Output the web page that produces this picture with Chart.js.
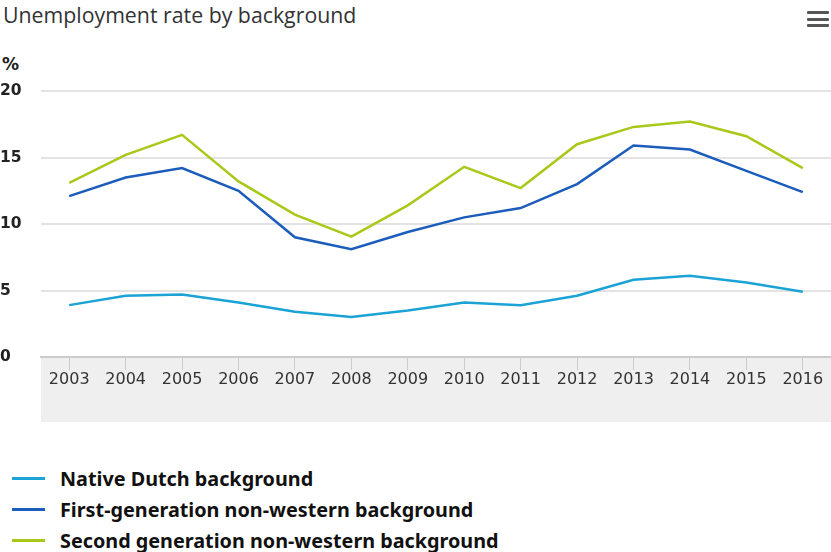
<!DOCTYPE html>
<html>
<head>
<meta charset="utf-8">
<script src="https://cdn.jsdelivr.net/npm/chart.js@4"></script>
<style>
  body { margin: 0; background: #fff; width: 831px; height: 552px; overflow: hidden; position: relative; }
  #title { position: absolute; left: 3px; top: 0px; font: 21.3px "Open Sans", sans-serif; color: #333; }
  #unit { position: absolute; left: 2px; top: 54px; font: bold 17px "DejaVu Sans", sans-serif; color: #222; }
  #menu { position: absolute; left: 807px; top: 11px; width: 22px; }
  #menu div { height: 3px; background: #555; margin-bottom: 3.5px; border-radius: 1px; }
  #wrap { position: absolute; left: 0; top: 0; width: 831px; height: 425px; }
  #legend { position: absolute; left: 12px; top: 463px; }
  .item { display: flex; align-items: center; height: 31px; font: bold 19.8px "Noto Sans", sans-serif; color: #111; }
  .item span.sw { display: inline-block; width: 33px; height: 3px; margin-right: 15px; }
</style>
</head>
<body>
<div id="title">Unemployment rate by background</div>
<div id="unit">%</div>
<div id="menu"><div></div><div></div><div></div></div>
<div id="wrap"><canvas id="chart"></canvas></div>
<div id="legend"></div>

<script>
const years = ["2003", "2004", "2005", "2006", "2007", "2008", "2009", "2010", "2011", "2012", "2013", "2014", "2015", "2016"];
const nativeDutch = [3.9, 4.6, 4.7, 4.1, 3.4, 3.0, 3.5, 4.1, 3.9, 4.6, 5.8, 6.1, 5.6, 4.9];
const firstGen = [12.1, 13.5, 14.2, 12.5, 9.0, 8.1, 9.4, 10.5, 11.2, 13.0, 15.9, 15.6, 14.0, 12.4];
const secondGen = [13.1, 15.2, 16.7, 13.2, 10.7, 9.05, 11.4, 14.3, 12.7, 16.0, 17.3, 17.7, 16.6, 14.2];

// grey strip behind the year labels
const axisBand = {
  id: "axisBand",
  beforeDraw(chart) {
    const { ctx, chartArea } = chart;
    const x = chart.scales.x;
    ctx.save();
    ctx.fillStyle = "#efefef";
    ctx.fillRect(chartArea.left, chartArea.bottom, chart.width - chartArea.left, x.bottom - chartArea.bottom);
    ctx.restore();
  },
};

const ctx = document.getElementById("chart").getContext("2d");
const chart = new Chart(ctx, {
  type: "line",
  data: {
    labels: years,
    datasets: [
      { label: "Native Dutch background", data: nativeDutch, borderColor: "#1ba3d6" },
      { label: "First-generation non-western background", data: firstGen, borderColor: "#1c5cbb" },
      { label: "Second generation non-western background", data: secondGen, borderColor: "#a8c81a" },
    ],
  },
  options: {
    responsive: true,
    maintainAspectRatio: false,
    animation: false,
    layout: { padding: { top: 91, bottom: 3, left: 0, right: 0 } },
    elements: {
      line: { borderWidth: 2.5, tension: 0 },
      point: { radius: 0 },
    },
    plugins: { legend: { display: false }, tooltip: { enabled: false } },
    scales: {
      x: {
        offset: true,
        grid: { drawOnChartArea: false, offset: false, tickLength: 13, color: "#cccccc", lineWidth: 1 },
        border: { color: "#cccccc", width: 2 },
        ticks: { color: "#333", font: { family: "DejaVu Sans", size: 16 }, padding: 0, maxRotation: 0, autoSkip: false },
        afterFit(scale) { scale.height = 65; },
      },
      y: {
        min: 0,
        max: 20,
        ticks: { stepSize: 5, color: "#222", crossAlign: "far", padding: 0, font: { family: "DejaVu Sans", size: 15.5, weight: "bold" } },
        grid: { drawTicks: false, color: "#e3e3e3", lineWidth: 2 },
        border: { display: false },
        afterFit(scale) { scale.width = 41; },
      },
    },
  },
  plugins: [axisBand],
});

const legend = document.getElementById("legend");
chart.data.datasets.forEach((ds) => {
  legend.innerHTML += `<div class="item"><span class="sw" style="background:${ds.borderColor}"></span>${ds.label}</div>`;
});
</script>
</body>
</html>
